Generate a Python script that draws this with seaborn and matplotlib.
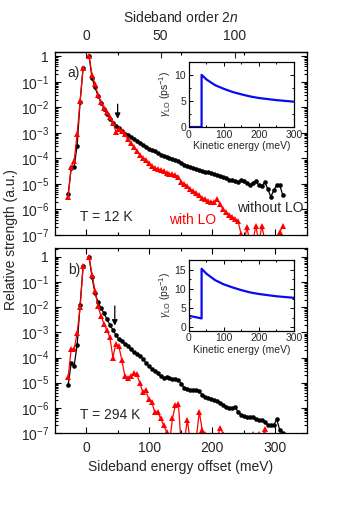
import matplotlib
matplotlib.use("Agg")
import matplotlib.pyplot as plt
import matplotlib.ticker as mticker
import numpy as np
import pandas as pd
import seaborn as sns

PHOTON_MEV = 2.36  # THz photon energy: sideband order 2n sits at 2n * 2.36 meV

orders_neg = [-12, -10, -8, -6, -4, -2]
orders_pos_a = list(range(2, 134, 2))      # 2 .. 132
orders_pos_b_red = list(range(2, 124, 2))  # 2 .. 122

# log10 of relative strength
a_black_neg = [-5.4, -4.38, -4.32, -3.5, -1.78, -0.46]
a_black_pos = [0.0, -0.85, -1.22, -1.55, -1.82, -2.05, -2.25, -2.45, -2.6, -2.72,
               -2.8, -2.92, -3.03, -3.1, -3.18, -3.25, -3.33, -3.4, -3.47, -3.55,
               -3.62, -3.68, -3.73, -3.8, -3.85, -3.9, -3.96, -4.0, -4.03, -4.08,
               -4.12, -4.2, -4.25, -4.3, -4.33, -4.38, -4.42, -4.46, -4.5, -4.52,
               -4.55, -4.57, -4.6, -4.65, -4.68, -4.72, -4.78, -4.83, -4.85, -4.9,
               -4.92, -4.85, -4.88, -4.98, -5.05, -4.95, -4.9, -5.05, -5.1, -4.92,
               -5.2, -5.5, -5.25, -5.05, -5.05, -5.43]
a_red_neg = [-5.5, -4.35, -4.1, -3.05, -1.75, -0.45]
a_red_pos = [0.0, -0.72, -1.1, -1.5, -1.8, -2.02, -2.2, -2.4, -2.6, -2.95,
             -2.85, -2.92, -3.05, -3.25, -3.38, -3.55, -3.7, -3.85, -3.97, -4.07,
             -4.17, -4.28, -4.38, -4.42, -4.45, -4.5, -4.56, -4.6, -4.62, -4.66,
             -4.72, -4.92, -5.0, -5.08, -5.2, -5.28, -5.35, -5.45, -5.55, -5.6,
             -5.68, -5.7, -5.72, -5.6, -5.8, -6.0, -6.1, -6.2, -6.28, -6.38,
             -6.45, -6.95, -7.3, -6.7, -7.3, -7.2, -6.65, -7.3, -6.65, -7.2,
             -7.5, -7.6, -7.6, -7.4, -6.9, -6.65]

b_black_neg = [-5.09, -4.23, -4.32, -3.5, -1.91, -0.38]
b_black_pos = [0.0, -0.8, -1.45, -1.8, -2.03, -2.24, -2.47, -2.7, -2.9, -3.1,
               -3.28, -3.36, -3.45, -3.55, -3.68, -3.77, -3.84, -3.92, -4.05, -4.2,
               -4.33, -4.44, -4.54, -4.63, -4.74, -4.82, -4.77, -4.8, -4.85, -4.86,
               -4.89, -5.05, -5.22, -5.27, -5.3, -5.3, -5.29, -5.35, -5.48, -5.55,
               -5.62, -5.65, -5.69, -5.72, -5.8, -5.88, -5.95, -6.02, -6.0, -5.98,
               -6.15, -6.28, -6.33, -6.35, -6.37, -6.38, -6.45, -6.48, -6.48, -6.55,
               -6.68, -6.68, -6.68, -6.46, -6.88, -7.0]
b_red_neg = [-4.76, -3.66, -3.66, -3.03, -2.0, -0.38]
b_red_pos = [0.0, -0.7, -1.35, -1.95, -2.35, -2.65, -2.92, -3.2, -4.0, -3.45,
             -3.55, -4.1, -4.72, -4.82, -4.72, -4.63, -4.65, -5.0, -5.36, -5.29,
             -5.65, -5.75, -6.15, -6.15, -6.42, -6.68, -6.95, -7.4, -6.42, -5.89,
             -5.85, -7.6, -7.3, -6.48, -7.4, -7.6, -7.2, -6.15, -6.9, -7.05,
             -7.5, -7.6, -7.5, -7.2, -6.81, -7.02, -7.6, -7.7, -7.7, -7.6,
             -7.7, -7.6, -7.5, -7.3, -7.1, -7.02, -7.3, -7.02, -7.3, -6.84,
             -7.5]

# insets: LO-phonon scattering rate vs kinetic energy
kinetic_mev = [0, 36, 36, 50, 75, 100, 125, 150, 175, 200, 225, 250, 275, 300]
gamma_12K = [0, 0, 10.0, 9.1, 8.0, 7.3, 6.7, 6.25, 5.85, 5.55, 5.35, 5.15, 5.0, 4.85]
gamma_294K = [3.0, 2.3, 15.3, 14.0, 12.3, 11.2, 10.4, 9.7, 9.1, 8.7, 8.4, 8.1, 7.9, 7.7]

RED = "#ff0000"
BLUE = "#0a0af0"

sns.set_theme(style="ticks")
plt.rcParams["font.family"] = ["Liberation Sans", "DejaVu Sans"]
plt.rcParams.update({
    "font.size": 10,
    "axes.labelsize": 10,
    "xtick.labelsize": 10,
    "ytick.labelsize": 10,
    "mathtext.fontset": "custom",
    "mathtext.rm": "Liberation Sans",
    "mathtext.it": "Liberation Sans:italic",
    "axes.linewidth": 0.9,
    "axes.edgecolor": "black",
})


def sideband_frame(neg, pos_orders, pos):
    orders = orders_neg + pos_orders
    logs = neg + pos
    return pd.DataFrame({
        "energy": np.array(orders) * PHOTON_MEV,
        "strength": 10.0 ** np.array(logs),
        "segment": ["neg"] * len(neg) + ["pos"] * len(pos),
    })


def draw_panel(ax, black, red):
    sns.lineplot(data=black, x="energy", y="strength", units="segment", estimator=None,
                 sort=False, color="black", marker="o", markersize=3.3, markeredgewidth=0,
                 lw=0.9, ax=ax, legend=False)
    sns.lineplot(data=red, x="energy", y="strength", units="segment", estimator=None,
                 sort=False, color=RED, marker="^", markersize=4.6, markeredgewidth=0,
                 lw=0.9, ax=ax, legend=False)
    ax.set_yscale("log")
    ax.set_xlim(-50, 350)
    ax.xaxis.set_major_locator(mticker.MultipleLocator(100))
    ax.xaxis.set_minor_locator(mticker.MultipleLocator(50))
    decades = [10.0 ** -k for k in range(8)]
    labels = ["1"] + [f"$10^{{-{k}}}$" for k in range(1, 8)]
    ax.set_yticks(decades, labels)
    ax.yaxis.set_minor_locator(mticker.LogLocator(base=10, subs=np.arange(2, 10), numticks=20))
    ax.yaxis.set_minor_formatter(mticker.NullFormatter())
    ax.tick_params(which="both", direction="in", right=True, top=True, width=0.8,
                   color="black")
    ax.tick_params(which="major", length=4)
    ax.tick_params(which="minor", length=2.2)
    ax.tick_params(axis="x", pad=6)
    ax.tick_params(axis="y", pad=4)
    ax.set_xlabel("")
    ax.set_ylabel("")


def draw_inset(ax, gamma, ylim, yticks):
    sns.lineplot(x=kinetic_mev, y=gamma, color=BLUE, lw=1.6, sort=False, estimator=None, ax=ax)
    ax.set_xlim(0, 300)
    ax.set_ylim(*ylim)
    ax.set_xticks([0, 100, 200, 300])
    ax.xaxis.set_minor_locator(mticker.MultipleLocator(50))
    ax.set_yticks(yticks)
    ax.yaxis.set_minor_locator(mticker.MultipleLocator(2.5))
    ax.tick_params(which="both", direction="in", top=True, right=True, labelsize=7.5, pad=2,
                   width=0.7, color="black")
    ax.tick_params(which="major", length=3)
    ax.tick_params(which="minor", length=1.6)
    ax.set_xlabel("Kinetic energy (meV)", fontsize=7.5, labelpad=1)
    ax.set_ylabel(r"$\gamma_{\rm LO}$ (ps$^{-1}$)", fontsize=7.5, labelpad=1)
    ax.set_facecolor("white")


fig = plt.figure(figsize=(3.39, 5.21), dpi=100)
ax_a = fig.add_axes([0.1608, 0.5489, 0.7448, 0.3519])
ax_b = fig.add_axes([0.1608, 0.1689, 0.7448, 0.3545])

draw_panel(ax_a, sideband_frame(a_black_neg, orders_pos_a, a_black_pos),
           sideband_frame(a_red_neg, orders_pos_a, a_red_pos))
draw_panel(ax_b, sideband_frame(b_black_neg, orders_pos_a, b_black_pos),
           sideband_frame(b_red_neg, orders_pos_b_red, b_red_pos))

ax_a.set_ylim(1e-7, 1.5)
ax_b.set_ylim(1e-7, 2.2)
ax_a.tick_params(axis="x", labelbottom=False, top=False)
ax_b.set_xlabel("Sideband energy offset (meV)", labelpad=3)

top = ax_a.secondary_xaxis("top", functions=(lambda e: e / PHOTON_MEV, lambda n: n * PHOTON_MEV))
top.set_xticks([0, 50, 100])
top.tick_params(direction="in", length=4, width=0.8, pad=6)
top.set_xlabel("Sideband order 2$n$", labelpad=5)

fig.text(0.032, 0.541, "Relative strength (a.u.)", rotation=90, ha="center", va="center")

# arrows marking the LO-phonon threshold
ax_a.annotate("", xy=(50, 10 ** -2.56), xytext=(50, 10 ** -1.77),
              arrowprops=dict(arrowstyle="-|>", color="black", lw=0.9, mutation_scale=8))
ax_b.annotate("", xy=(45.5, 10 ** -2.84), xytext=(45.5, 10 ** -1.84),
              arrowprops=dict(arrowstyle="-|>", color="black", lw=0.9, mutation_scale=8))

ax_a.text(0.077, 0.884, "a)", transform=ax_a.transAxes, ha="center", va="center")
ax_b.text(0.077, 0.883, "b)", transform=ax_b.transAxes, ha="center", va="center")
ax_a.text(0.204, 0.098, "T = 12 K", transform=ax_a.transAxes, ha="center", va="center")
ax_b.text(0.22, 0.097, "T = 294 K", transform=ax_b.transAxes, ha="center", va="center")
ax_a.text(0.547, 0.082, "with LO", color=RED, transform=ax_a.transAxes, ha="center",
          va="center")
ax_a.text(0.855, 0.147, "without LO", transform=ax_a.transAxes, ha="center", va="center")

in_a = fig.add_axes([0.5575, 0.7562, 0.3097, 0.1253])
in_b = fig.add_axes([0.5575, 0.3653, 0.3097, 0.1357])
draw_inset(in_a, gamma_12K, (0, 12.5), [0, 5, 10])
draw_inset(in_b, gamma_294K, (-0.9, 17.6), [0, 5, 10, 15])

fig.savefig("out.png", dpi=100)
